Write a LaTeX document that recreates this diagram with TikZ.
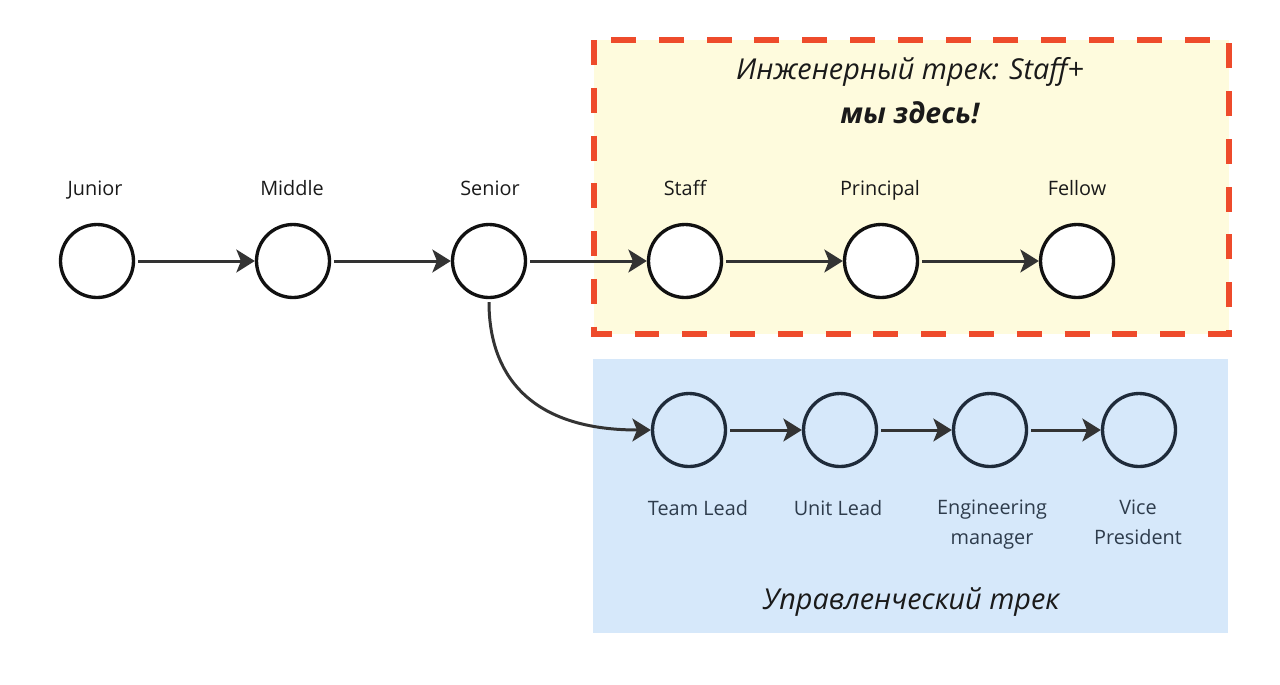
\documentclass[tikz,border=0pt]{standalone}
\usepackage{fontspec}
\setmainfont{Open Sans}
\usetikzlibrary{arrows.meta}
\definecolor{yfill}{HTML}{FEFBDD}
\definecolor{rdash}{HTML}{EE4B2B}
\definecolor{bfill}{HTML}{D6E8FA}
\definecolor{lineg}{HTML}{333333}
\definecolor{circk}{HTML}{111111}
\definecolor{navy}{HTML}{1F2B3A}
\definecolor{lblue}{HTML}{2E3C4C}
\definecolor{txtk}{HTML}{1A1A1A}
\tikzset{
  stage/.style={circle, draw=circk, line width=1.9pt, fill=white, minimum size=1.46cm, inner sep=0pt},
  mstage/.style={circle, draw=navy, line width=1.9pt, minimum size=1.46cm, inner sep=0pt},
  toplbl/.style={anchor=base, inner sep=0pt, text=txtk, font=\fontsize{11.3}{17}\selectfont},
  botlbl/.style={anchor=north, inner sep=0pt, text=lblue, align=center, font=\fontsize{11.3}{17}\selectfont},
  arr/.style={draw=lineg, line width=1.7pt, shorten <=1.7pt,
    -{Stealth[length=10.5pt, width=13pt, inset=2.6pt]}},
  ttl/.style={anchor=base, inner sep=0pt, text=txtk, font=\fontsize{16.4}{19}\selectfont\itshape},
}
\begin{document}
\begin{tikzpicture}[x=0.02cm, y=-0.02cm]
\useasboundingbox (0,0) rectangle (1280,684);
% track boxes
\fill[yfill] (594,40) rectangle (1229,334);
\fill[bfill] (593,359) rectangle (1228,633);

% titles
\node[ttl] (engtitle) at (910,79) {Инженерный трек: Staff+};
\node[ttl, font=\fontsize{16.2}{19}\selectfont\bfseries\itshape] (here) at (910,123) {мы здесь!};
\node[ttl] (mgmttitle) at (911,609) {Управленческий трек};

% engineering track
\node[stage] (junior) at (97,261) {};
\node[stage] (middle) at (293,261) {};
\node[stage] (senior) at (489,261) {};
\node[stage] (staff) at (685,261) {};
\node[stage] (principal) at (881,261) {};
\node[stage] (fellow) at (1077,261) {};

\node[toplbl] (ljunior) at (95,195) {Junior};
\node[toplbl] (lmiddle) at (292,195) {Middle};
\node[toplbl] (lsenior) at (490,195) {Senior};
\node[toplbl] (lstaff) at (685,195) {Staff};
\node[toplbl] (lprincipal) at (880,195) {Principal};
\node[toplbl] (lfellow) at (1077,195) {Fellow};

% management track
\node[mstage] (teamlead) at (689,430) {};
\node[mstage] (unitlead) at (840,430) {};
\node[mstage] (engmgr) at (990,430) {};
\node[mstage] (vp) at (1139,430) {};

\node[botlbl] (lteamlead) at (698,500) {Team Lead};
\node[botlbl] (lunitlead) at (838,500) {Unit Lead};
\node[botlbl] (lengmgr) at (992,500) {Engineering\\manager};
\node[botlbl] (lvp) at (1138,500) {Vice\\President};

% connectors
\draw[arr] (junior) -- (middle);
\draw[arr] (middle) -- (senior);
\draw[arr] (senior) -- (staff);
\draw[arr] (staff) -- (principal);
\draw[arr] (principal) -- (fellow);
\draw[arr] (senior.south) .. controls (489,370) and (525,430) .. (teamlead.west);
\draw[arr] (teamlead) -- (unitlead);
\draw[arr] (unitlead) -- (engmgr);
\draw[arr] (engmgr) -- (vp);

% dashed frame
\draw[rdash, line width=3.1pt, dash pattern=on 14.2pt off 13pt] (594,40) rectangle (1229,334);
\end{tikzpicture}
\end{document}
